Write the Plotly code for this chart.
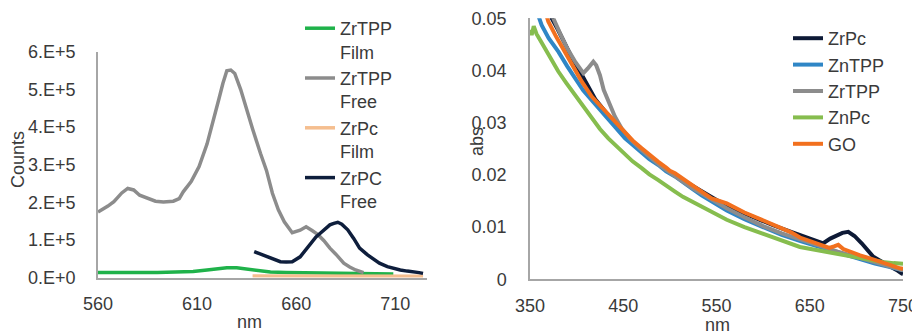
import plotly.graph_objects as go

# ---------------- Left panel data (emission, counts) ----------------
zrtpp_free_nm = [560, 562, 565, 568, 572, 575, 578, 581, 585, 589, 593, 598, 601, 603, 607, 611, 615, 618, 621, 623, 625, 627, 629, 632, 635, 638, 642, 645, 648, 651, 654, 658, 662, 665, 668, 671, 674, 677, 680, 684, 687, 690, 694]
zrtpp_free_y = [1.74e5, 1.80e5, 1.90e5, 2.02e5, 2.25e5, 2.37e5, 2.33e5, 2.19e5, 2.12e5, 2.03e5, 2.01e5, 2.03e5, 2.10e5, 2.28e5, 2.55e5, 2.95e5, 3.55e5, 4.19e5, 4.75e5, 5.16e5, 5.50e5, 5.52e5, 5.43e5, 5.00e5, 4.45e5, 3.95e5, 3.30e5, 2.85e5, 2.24e5, 1.80e5, 1.48e5, 1.19e5, 1.26e5, 1.35e5, 1.25e5, 1.14e5, 0.98e5, 0.78e5, 0.62e5, 0.38e5, 0.28e5, 0.20e5, 0.13e5]

zrtpp_film_nm = [560, 570, 580, 590, 600, 608, 615, 620, 625, 630, 635, 640, 647, 655, 665, 675, 685, 695, 709]
zrtpp_film_y = [1.3e4, 1.4e4, 1.35e4, 1.3e4, 1.4e4, 1.6e4, 2.0e4, 2.3e4, 2.6e4, 2.6e4, 2.3e4, 1.8e4, 1.45e4, 1.3e4, 1.2e4, 1.2e4, 1.15e4, 1.1e4, 0.9e4]

zrpc_film_nm = [638, 650, 665, 680, 695, 710, 724]
zrpc_film_y = [4.0e3, 4.0e3, 3.5e3, 3.5e3, 3.0e3, 3.0e3, 3.0e3]

zrpc_free_nm = [638.8, 642, 645.2, 649, 652, 655, 658, 662, 665, 667, 670, 672, 675, 677, 679, 681, 683, 686, 689, 692, 696, 699, 702, 706, 709, 712.5, 716, 719, 722, 724]
zrpc_free_y = [0.69e5, 0.62e5, 0.55e5, 0.47e5, 0.42e5, 0.41e5, 0.42e5, 0.55e5, 0.75e5, 0.91e5, 1.08e5, 1.17e5, 1.30e5, 1.40e5, 1.44e5, 1.47e5, 1.42e5, 1.27e5, 1.04e5, 0.78e5, 0.60e5, 0.48e5, 0.38e5, 0.29e5, 0.24e5, 0.20e5, 0.17e5, 0.16e5, 0.13e5, 0.11e5]

left_x_ticks = [560, 610, 660, 710]
left_y_ticks = [0, 1e5, 2e5, 3e5, 4e5, 5e5, 6e5]
left_y_labels = ["0.E+0", "1.E+5", "2.E+5", "3.E+5", "4.E+5", "5.E+5", "6.E+5"]

# ---------------- Right panel data (absorbance) ----------------
zrpc_abs_nm = [371, 373.3, 380, 387.5, 394, 401.8, 407, 412.5, 420, 435, 450, 470, 490, 510, 530, 550, 570, 590, 610, 630, 650, 664.5, 672, 679, 685, 691.3, 698, 705.7, 712, 718.2, 725, 735, 743, 748.6, 750]
zrpc_abs_y = [0.0520, 0.0500, 0.0478, 0.0449, 0.0428, 0.0404, 0.0386, 0.0369, 0.0345, 0.0312, 0.0280, 0.0246, 0.0218, 0.0194, 0.0172, 0.0152, 0.0134, 0.0118, 0.0104, 0.0091, 0.0078, 0.0069, 0.0078, 0.0085, 0.0089, 0.0091, 0.0083, 0.0069, 0.0055, 0.0043, 0.0036, 0.0027, 0.0018, 0.0011, 0.0010]

zntpp_abs_nm = [356, 362.5, 370, 380.4, 390, 398.3, 407, 416.2, 425, 434, 443, 451.9, 460, 469.8, 478, 487.6, 496, 505.5, 514, 523.4, 534, 544.8, 561, 580, 600, 620, 640, 660, 680, 700, 720, 735, 750]
zntpp_abs_y = [0.0520, 0.0487, 0.0462, 0.0436, 0.0408, 0.0385, 0.0362, 0.0343, 0.0325, 0.0308, 0.0287, 0.0270, 0.0258, 0.0244, 0.0230, 0.0219, 0.0207, 0.0197, 0.0185, 0.0174, 0.0161, 0.0149, 0.0132, 0.0115, 0.0099, 0.0085, 0.0073, 0.0062, 0.0051, 0.0040, 0.0030, 0.0024, 0.0017]

zrtpp_abs_nm = [371, 375, 382, 390, 398, 403, 407.2, 412, 417.9, 421, 425, 429, 434, 441, 448.3, 458, 470, 490, 507, 525, 545, 561, 580, 600, 620, 640, 660, 680, 700, 720, 735, 750]
zrtpp_abs_y = [0.0520, 0.0500, 0.0472, 0.0442, 0.0418, 0.0404, 0.0395, 0.0404, 0.0417, 0.0410, 0.0391, 0.0363, 0.0340, 0.0312, 0.0289, 0.0268, 0.0247, 0.0217, 0.0196, 0.0174, 0.0153, 0.0136, 0.0119, 0.0102, 0.0088, 0.0076, 0.0064, 0.0053, 0.0043, 0.0032, 0.0025, 0.0017]

znpc_abs_nm = [350, 351.8, 354, 357, 361, 366, 372, 380.4, 389, 398.3, 407, 416.2, 425, 434, 443, 451.9, 460, 469.8, 478, 487.6, 496, 505.5, 514, 523.4, 534, 544.8, 561, 580, 600, 620, 639.5, 657, 675.3, 693, 711, 728, 740, 746.8, 750]
znpc_abs_y = [0.0478, 0.0468, 0.0485, 0.0470, 0.0458, 0.0443, 0.0425, 0.0398, 0.0376, 0.0353, 0.0331, 0.0308, 0.0288, 0.0270, 0.0254, 0.0238, 0.0226, 0.0213, 0.0201, 0.0190, 0.0179, 0.0168, 0.0158, 0.0149, 0.0139, 0.0130, 0.0114, 0.0100, 0.0087, 0.0074, 0.0062, 0.0056, 0.0050, 0.0043, 0.0037, 0.0033, 0.0031, 0.0031, 0.0030]

go_abs_nm = [360, 365, 369.6, 378, 387.5, 396, 405.4, 416.2, 425, 434, 443, 451.9, 460, 469.8, 478, 487.6, 496, 500, 505.5, 514, 523.4, 534, 544.8, 561, 580, 600, 614.6, 630, 639.5, 650, 661, 671, 676, 680.6, 686, 693, 704, 714.6, 725, 735, 746.8, 750]
go_abs_y = [0.0550, 0.0520, 0.0494, 0.0465, 0.0436, 0.0408, 0.0379, 0.0350, 0.0333, 0.0315, 0.0296, 0.0280, 0.0266, 0.0251, 0.0238, 0.0225, 0.0214, 0.0208, 0.0203, 0.0192, 0.0181, 0.0168, 0.0155, 0.01455, 0.0128, 0.0112, 0.0101, 0.0090, 0.0080, 0.0073, 0.0065, 0.0060, 0.0063, 0.0066, 0.0058, 0.0053, 0.0046, 0.0040, 0.0033, 0.0028, 0.0021, 0.0020]

right_x_ticks = [350, 450, 550, 650, 750]
right_y_ticks = [0, 0.01, 0.02, 0.03, 0.04, 0.05]
right_y_labels = ["0", "0.01", "0.02", "0.03", "0.04", "0.05"]

# ---------------- Styling ----------------
FONT = "Liberation Sans, Arial, sans-serif"
TXT = "#3A3A3A"
AX = "#A6A6A6"
FS = 18
W, H = 920, 333
OFF = 8  # default page body margin shifts the figure by this many pixels

fig = go.Figure()

left = [
    ("ZrTPP<br>Film", zrtpp_film_nm, zrtpp_film_y, "#1FB24A"),
    ("ZrTPP<br>Free", zrtpp_free_nm, zrtpp_free_y, "#8C8C8C"),
    ("ZrPc<br>Film", zrpc_film_nm, zrpc_film_y, "#F5BE8F"),
    ("ZrPC<br>Free", zrpc_free_nm, zrpc_free_y, "#0E1E3C"),
]
for name, x, y, c in left:
    fig.add_trace(go.Scatter(x=x, y=y, mode="lines", name=name,
                             line=dict(color=c, width=3.5),
                             xaxis="x", yaxis="y", legend="legend"))

right = [
    ("ZrPc", zrpc_abs_nm, zrpc_abs_y, "#0E1A36"),
    ("ZnTPP", zntpp_abs_nm, zntpp_abs_y, "#2F86C6"),
    ("ZrTPP", zrtpp_abs_nm, zrtpp_abs_y, "#8C8C8C"),
    ("ZnPc", znpc_abs_nm, znpc_abs_y, "#86BD4E"),
    ("GO", go_abs_nm, go_abs_y, "#F2701E"),
]
for name, x, y, c in right:
    fig.add_trace(go.Scatter(x=x, y=y, mode="lines", name=name,
                             line=dict(color=c, width=4),
                             xaxis="x2", yaxis="y2", legend="legend2"))

def px_x(p):
    return (p - OFF) / W

def px_y(p):
    return (H - (p - OFF)) / H

axis_common = dict(showgrid=False, zeroline=False, ticks="", showline=True,
                   automargin=False, linecolor=AX, linewidth=1.5,
                   tickfont=dict(family=FONT, size=FS, color=TXT))

fig.update_layout(
    width=W, height=H,
    margin=dict(l=0, r=0, t=0, b=0),
    paper_bgcolor="white", plot_bgcolor="white",
    font=dict(family=FONT, size=FS, color=TXT),
    xaxis=dict(domain=[px_x(98), px_x(427)], range=[560, 726],
               tickvals=left_x_ticks, ticklabelstandoff=9, anchor="y", **axis_common),
    yaxis=dict(domain=[px_y(277.5), px_y(52)], range=[0, 6e5],
               tickvals=left_y_ticks, ticktext=left_y_labels,
               ticklabelstandoff=17, anchor="x", **axis_common),
    xaxis2=dict(domain=[px_x(530), px_x(903)], range=[350, 750],
                tickvals=right_x_ticks, ticklabelstandoff=9, anchor="y2", **axis_common),
    yaxis2=dict(domain=[px_y(279.3), px_y(18.3)], range=[0, 0.05],
                tickvals=right_y_ticks, ticktext=right_y_labels,
                ticklabelstandoff=18, anchor="x2", **axis_common),
    legend=dict(x=px_x(300), y=px_y(10), xanchor="left", yanchor="top",
                bgcolor="rgba(0,0,0,0)", valign="top", itemwidth=30,
                font=dict(family=FONT, size=FS, color=TXT)),
    legend2=dict(x=px_x(788), y=px_y(20), xanchor="left", yanchor="top",
                 bgcolor="rgba(0,0,0,0)", itemwidth=30,
                 font=dict(family=FONT, size=FS, color=TXT)),
    annotations=[
        dict(text="Counts", x=px_x(18), y=px_y(160), xref="paper", yref="paper",
             textangle=-90, showarrow=False, xanchor="center", yanchor="middle",
             font=dict(family=FONT, size=FS, color=TXT)),
        dict(text="nm", x=px_x(250), y=px_y(322), xref="paper", yref="paper",
             showarrow=False, xanchor="center", yanchor="middle",
             font=dict(family=FONT, size=FS, color=TXT)),
        dict(text="abs", x=px_x(477), y=px_y(142), xref="paper", yref="paper",
             textangle=-90, showarrow=False, xanchor="center", yanchor="middle",
             font=dict(family=FONT, size=FS, color=TXT)),
        dict(text="nm", x=px_x(717), y=px_y(325), xref="paper", yref="paper",
             showarrow=False, xanchor="center", yanchor="middle",
             font=dict(family=FONT, size=FS, color=TXT)),
    ],
)

fig.write_html("out.html")
